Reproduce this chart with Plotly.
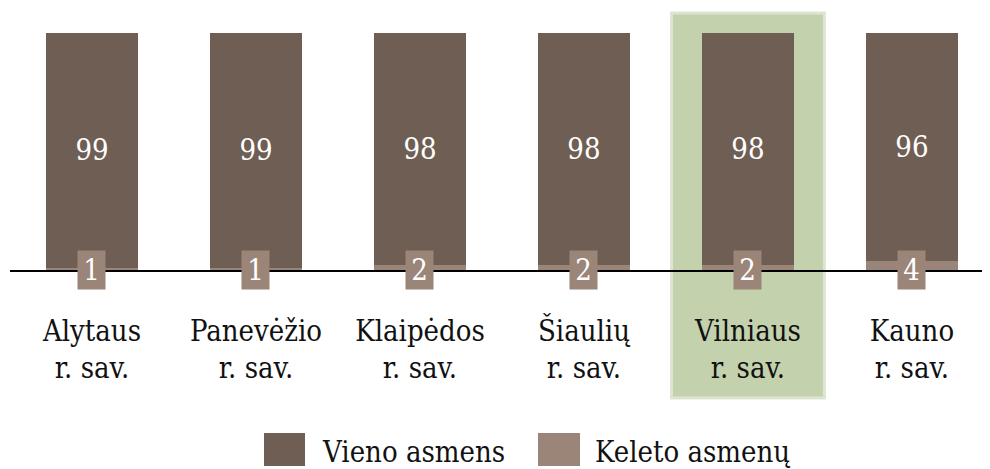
import plotly.graph_objects as go

categories = ["Alytaus<br>r. sav.", "Panevėžio<br>r. sav.", "Klaipėdos<br>r. sav.",
              "Šiaulių<br>r. sav.", "Vilniaus<br>r. sav.", "Kauno<br>r. sav."]
vieno = [99, 99, 98, 98, 98, 96]
keleto = [1, 1, 2, 2, 2, 4]
series_names = ["Vieno asmens", "Keleto asmenų"]
highlight_index = 4

DARK = "#6f5e54"
LIGHT = "#9b8578"
GREEN = "#c3d1ad"
FONT = "DejaVu Serif Condensed, DejaVu Serif, serif"
FS = 29

W, H = 990, 469
OFF = 8  # page body margin
# plot area in page pixels: x 10..990, y 33..270
L, R, T, B = 10 - OFF, OFF, 33 - OFF, H - (270 - OFF)
PW, PH = W - L - R, H - T - B

def px(x):
    return (x - OFF - L) / PW

def py(y):
    return (H - B - (y - OFF)) / PH

fig = go.Figure()
fig.add_trace(go.Bar(x=categories, y=keleto, name=series_names[1], marker_color=LIGHT,
                     marker_line_width=0, showlegend=False))
fig.add_trace(go.Bar(x=categories, y=vieno, name=series_names[0], marker_color=DARK,
                     marker_line_width=0, text=[str(v) for v in vieno],
                     textposition="inside", insidetextanchor="middle",
                     textfont=dict(color="white", size=FS, family=FONT), showlegend=False))

# highlight column
fig.add_shape(type="rect", xref="x", yref="paper", x0=highlight_index - 0.466, x1=highlight_index + 0.466,
              y0=py(398), y1=py(13), fillcolor=GREEN, line=dict(color="#dde5d2", width=3), layer="below")

# small value boxes
for c, v in zip(categories, keleto):
    fig.add_annotation(x=c, y=0, xref="x", yref="y", text=str(v), showarrow=False,
                       bgcolor=LIGHT, width=27, height=38, yanchor="middle", xanchor="center",
                       font=dict(color="white", size=FS, family=FONT), borderpad=0)

# manual legend
legend_items = [(series_names[0], DARK, 264, 305, 320), (series_names[1], LIGHT, 538, 580, 593)]
for name, col, x0, x1, tx in legend_items:
    fig.add_shape(type="rect", xref="paper", yref="paper", x0=px(x0), x1=px(x1),
                  y0=py(466), y1=py(433), fillcolor=col, line_width=0)
    fig.add_annotation(xref="paper", yref="paper", x=px(tx), y=py(452), text=name, showarrow=False,
                       xanchor="left", yanchor="middle", font=dict(size=FS, color="#111", family=FONT))

fig.update_layout(
    width=W, height=H, barmode="stack", bargap=0.439,
    margin=dict(l=L, r=R, t=T, b=B, autoexpand=False),
    plot_bgcolor="white", paper_bgcolor="white",
    font=dict(family=FONT, size=FS, color="#111"),
)
fig.update_xaxes(range=[-0.5, 5.476], showline=True, linecolor="black", linewidth=1.5,
                 ticks="outside", ticklen=34, tickcolor="rgba(0,0,0,0)", showgrid=False,
                 tickfont=dict(size=FS, family=FONT, color="#111"))
fig.update_yaxes(range=[0, 100], visible=False, showgrid=False)

fig.write_html("out.html")
